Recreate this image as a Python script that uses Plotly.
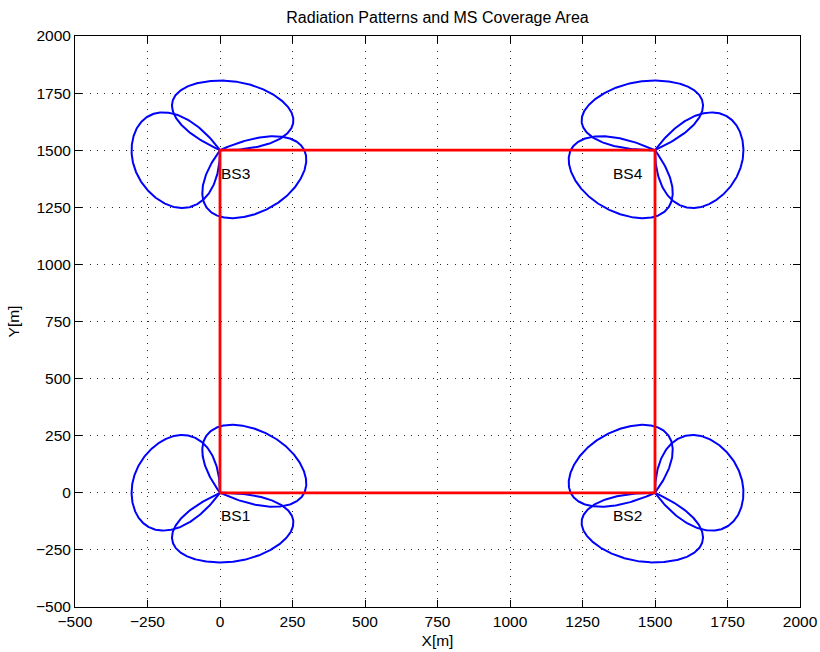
import numpy as np
import plotly.graph_objects as go

# Base stations and their three-sector antenna azimuths (degrees, CCW from +x)
bs_names = ["BS1", "BS2", "BS3", "BS4"]
bs_x = [0, 1500, 0, 1500]
bs_y = [0, 0, 1500, 1500]
sector_azimuth_deg = [
    [45, 165, 285],
    [135, 15, 255],
    [315, 195, 75],
    [225, 345, 105],
]

# Label anchor points (left edge of text)
label_x = [0, 1350, 0, 1350]
label_y = [-100, -100, 1400, 1400]

# MS coverage area (square between the four base stations)
coverage_x = [0, 1500, 1500, 0, 0]
coverage_y = [0, 0, 1500, 1500, 0]

tick_vals = [-500, -250, 0, 250, 500, 750, 1000, 1250, 1500, 1750, 2000]

# Sector antenna pattern parameters
main_lobe_range = 305      # [m] radius on boresight
null_angle_deg = 75        # pattern reaches zero at +/- this angle
pattern_order = 6


def sector_lobe(x0, y0, azimuth):
    """Radiation pattern of one sector antenna, drawn as a closed lobe."""
    phi = np.linspace(-null_angle_deg, null_angle_deg, 401)
    r = main_lobe_range * (1 - np.abs(phi / null_angle_deg) ** pattern_order)
    theta = np.deg2rad(phi + azimuth)
    return x0 + r * np.cos(theta), y0 + r * np.sin(theta)


fig = go.Figure()

for x0, y0, azimuths in zip(bs_x, bs_y, sector_azimuth_deg):
    for az in azimuths:
        lx, ly = sector_lobe(x0, y0, az)
        fig.add_trace(go.Scatter(
            x=lx, y=ly, mode="lines",
            line=dict(color="#0000ff", width=2),
            hoverinfo="skip",
        ))

fig.add_trace(go.Scatter(
    x=coverage_x, y=coverage_y, mode="lines",
    line=dict(color="#ff0000", width=2.8),
    hoverinfo="skip",
))

for name, tx, ty in zip(bs_names, label_x, label_y):
    fig.add_annotation(
        x=tx, y=ty, text=name, showarrow=False,
        xanchor="left", yanchor="middle", xshift=-1,
        font=dict(size=15.5, color="black"),
    )

font_family = "Liberation Sans, Arial, Helvetica, sans-serif"

axis_common = dict(
    tickvals=tick_vals,
    ticks="inside", ticklen=7, tickwidth=1, tickcolor="black",
    showline=True, linecolor="black", linewidth=1, mirror="ticks",
    showgrid=True, gridcolor="rgba(0,0,0,0.85)", gridwidth=1,
    griddash="1px,6.3px",
    zeroline=False,
    automargin=False,
    tickfont=dict(size=15.5, color="black"),
)

fig.update_layout(
    width=820, height=652,
    margin=dict(l=75, r=20, t=36, b=45),
    plot_bgcolor="white", paper_bgcolor="white",
    showlegend=False,
    font=dict(family=font_family, size=15.5, color="black"),
    title=dict(
        text="Radiation Patterns and MS Coverage Area",
        x=0.5, xref="paper", xanchor="center",
        y=1 - 17 / 652, yref="container", yanchor="middle",
        font=dict(size=16, color="black"),
    ),
    xaxis=dict(
        range=[-500, 2000],
        title=dict(text="X[m]", standoff=6, font=dict(size=15.5)),
        **axis_common,
    ),
    yaxis=dict(
        range=[-500, 2000],
        title=dict(text="Y[m]", standoff=12, font=dict(size=15.5)),
        **axis_common,
    ),
)

fig.write_html("out.html")
